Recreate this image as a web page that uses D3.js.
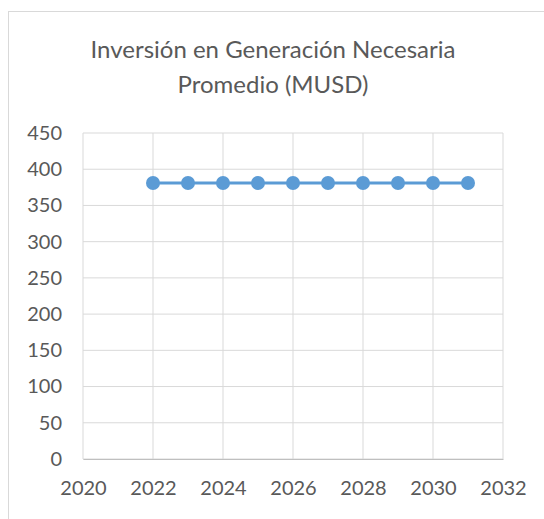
<!DOCTYPE html>
<html>
<head>
<meta charset="utf-8">
<script src="https://cdn.jsdelivr.net/npm/d3@7"></script>
<style>
  body { margin: 0; background: #fff; }
  svg text { font-family: Lato, "Open Sans", sans-serif; fill: #595959; }
</style>
</head>
<body>
<div id="chart"></div>
<script>
// data
var years = [2022, 2023, 2024, 2025, 2026, 2027, 2028, 2029, 2030, 2031];
var inversion = [381, 381, 381, 381, 381, 381, 381, 381, 381, 381];
var xTicks = [2020, 2022, 2024, 2026, 2028, 2030, 2032];
var yTicks = [0, 50, 100, 150, 200, 250, 300, 350, 400, 450];
var titleLines = ['Inversión en Generación Necesaria', 'Promedio (MUSD)'];

var w = 544, h = 519;
var margin = { top: 133, right: 41, bottom: 60, left: 83 };
var width = w - margin.left - margin.right;
var height = h - margin.top - margin.bottom;

var svg = d3.select('#chart').append('svg').attr('width', w).attr('height', h);

// chart frame (cut off at right and bottom like the source)
svg.append('rect')
    .attr('x', 8.5).attr('y', 11.5)
    .attr('width', w + 10).attr('height', h + 10)
    .attr('fill', 'none').attr('stroke', '#d9d9d9');

svg.selectAll('.title')
    .data(titleLines)
    .enter().append('text')
    .attr('class', 'title')
    .attr('x', 273)
    .attr('y', function (d, i) { return 58 + i * 35; })
    .attr('text-anchor', 'middle')
    .style('font-size', '24px')
    .text(function (d) { return d; });

var xScale = d3.scaleLinear().domain([2020, 2032]).range([0, width]);
var yScale = d3.scaleLinear().domain([0, 450]).range([height, 0]);

var g = svg.append('g')
    .attr('transform', 'translate(' + margin.left + ',' + margin.top + ')');

// gridlines
g.append('g').selectAll('line')
    .data(yTicks)
    .enter().append('line')
    .attr('x1', 0).attr('x2', width)
    .attr('y1', function (d) { return yScale(d); })
    .attr('y2', function (d) { return yScale(d); })
    .attr('stroke', '#d9d9d9').attr('stroke-width', 1);
g.append('g').selectAll('line')
    .data(xTicks)
    .enter().append('line')
    .attr('y1', 0).attr('y2', height)
    .attr('x1', function (d) { return xScale(d); })
    .attr('x2', function (d) { return xScale(d); })
    .attr('stroke', '#d9d9d9').attr('stroke-width', 1);

// axes
var xAxis = g.append('g')
    .attr('transform', 'translate(0,' + height + ')')
    .call(d3.axisBottom(xScale).tickValues(xTicks).tickFormat(d3.format('d')).tickSize(0).tickPadding(22));
xAxis.select('.domain').attr('stroke', '#bfbfbf');
xAxis.selectAll('text').style('font-size', '20px');

var yAxis = g.append('g')
    .call(d3.axisLeft(yScale).tickValues(yTicks).tickSize(0).tickPadding(21));
yAxis.select('.domain').remove();
yAxis.selectAll('text').style('font-size', '20px');

// series
var pts = years.map(function (d, i) { return [d, inversion[i]]; });
var line = d3.line()
    .x(function (d) { return xScale(d[0]); })
    .y(function (d) { return yScale(d[1]); });

g.append('path')
    .datum(pts)
    .attr('d', line)
    .attr('fill', 'none')
    .attr('stroke', '#5b9bd5')
    .attr('stroke-width', 3);

g.selectAll('.dot')
    .data(pts)
    .enter().append('circle')
    .attr('class', 'dot')
    .attr('cx', function (d) { return xScale(d[0]); })
    .attr('cy', function (d) { return yScale(d[1]); })
    .attr('r', 7)
    .attr('fill', '#5b9bd5');
</script>
</body>
</html>
